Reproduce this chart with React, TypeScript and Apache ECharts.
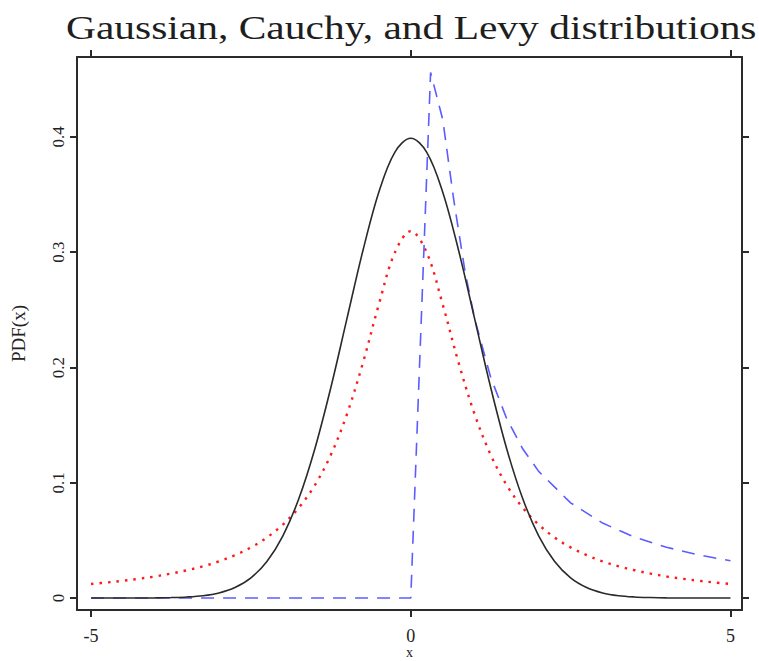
import React, { useEffect, useRef } from "react";
import * as echarts from "echarts";

const TITLE = "Gaussian, Cauchy, and Levy distributions";
const Y_NAME = "PDF(x)";
const X_NAME = "x";

const xTicks = [-5, 0, 5];
const yTicks = [0, 0.1, 0.2, 0.3, 0.4];

const gridX = [
  -5, -4.75, -4.5, -4.25, -4, -3.75, -3.5, -3.25, -3, -2.75, -2.5, -2.25, -2, -1.75, -1.5, -1.25, -1, -0.75, -0.5, -0.25,
  0, 0.25, 0.5, 0.75, 1, 1.25, 1.5, 1.75, 2, 2.25, 2.5, 2.75, 3, 3.25, 3.5, 3.75, 4, 4.25, 4.5, 4.75, 5,
];

const gaussian = [
  0, 0, 0, 0, 0.0001, 0.0004, 0.0009, 0.002, 0.0044, 0.0091, 0.0175, 0.0317, 0.054, 0.0863, 0.1295, 0.1826, 0.242, 0.3011, 0.3521, 0.3867,
  0.3989, 0.3867, 0.3521, 0.3011, 0.242, 0.1826, 0.1295, 0.0863, 0.054, 0.0317, 0.0175, 0.0091, 0.0044, 0.002, 0.0009, 0.0004, 0.0001, 0, 0, 0, 0,
];

const cauchy = [
  0.0122, 0.0135, 0.015, 0.0167, 0.0187, 0.0212, 0.0241, 0.0275, 0.0318, 0.0372, 0.0439, 0.0525, 0.0637, 0.0784, 0.0979, 0.1242, 0.1592, 0.2037, 0.2546, 0.2996,
  0.3183, 0.2996, 0.2546, 0.2037, 0.1592, 0.1242, 0.0979, 0.0784, 0.0637, 0.0525, 0.0439, 0.0372, 0.0318, 0.0275, 0.0241, 0.0212, 0.0187, 0.0167, 0.015, 0.0135, 0.0122,
];

const levyX = [-5, -4, -3, -2, -1, 0, 0.31, 0.5, 0.67, 0.85, 1, 1.25, 1.5, 1.75, 2, 2.5, 3, 3.5, 4, 4.5, 5];
const levy = [0, 0, 0, 0, 0, 0, 0.456, 0.4151, 0.3462, 0.2827, 0.242, 0.1914, 0.1556, 0.1295, 0.1099, 0.0826, 0.065, 0.0528, 0.044, 0.0374, 0.0323];

const SERIF = '"Liberation Serif", "Times New Roman", serif';
const AXIS_COLOR = "#2b2b2b";

export default function App() {
  const ref = useRef<HTMLDivElement>(null);

  useEffect(() => {
    if (!ref.current) return;
    const chart = echarts.init(ref.current, null, { renderer: "svg" });

    const pair = (xs: number[], ys: number[]) => xs.map((x, i) => [x, ys[i]]);

    const axisLine = { show: true, onZero: false, lineStyle: { color: AXIS_COLOR, width: 2 } };
    const tick = (vals: number[]) => ({
      show: true,
      customValues: vals,
      length: 7,
      lineStyle: { color: AXIS_COLOR, width: 2 },
    });
    const xMin = -5.22;
    const xMax = 5.18;
    const yMin = -0.0104;
    const yMax = 0.4694;

    const option: any = {
      animation: false,
      backgroundColor: "#fff",
      grid: { left: 77, right: 17, top: 57, bottom: 51, containLabel: false, outerBoundsMode: "none" },
      graphic: [
        {
          type: "text",
          x: 66,
          y: 10,
          scaleX: 1.22,
          style: {
            text: TITLE,
            font: `34px ${SERIF}`,
            fill: "#1e1e1e",
            verticalAlign: "top",
            align: "left",
          },
        },
      ],
      xAxis: [
        {
          type: "value",
          position: "bottom",
          min: xMin,
          max: xMax,
          axisLine,
          axisTick: tick(xTicks),
          axisLabel: { customValues: xTicks, fontFamily: SERIF, fontSize: 18, lineHeight: 15, color: "#222", margin: 18 },
          splitLine: { show: false },
          name: X_NAME,
          nameLocation: "middle",
          nameGap: 36,
          nameMoveOverlap: false,
          nameTextStyle: { fontFamily: SERIF, fontSize: 14, lineHeight: 13, color: "#222" },
        },
        {
          type: "value",
          position: "top",
          min: xMin,
          max: xMax,
          axisLine,
          axisTick: tick(xTicks),
          axisLabel: { show: false },
          splitLine: { show: false },
        },
      ],
      yAxis: [
        {
          type: "value",
          position: "left",
          min: yMin,
          max: yMax,
          axisLine,
          axisTick: tick(yTicks),
          axisLabel: {
            customValues: yTicks,
            rotate: 90,
            fontFamily: SERIF,
            fontSize: 17,
            color: "#222",
            margin: 10,
            formatter: (v: number) => String(Math.round(v * 10) / 10),
          },
          splitLine: { show: false },
          name: Y_NAME,
          nameLocation: "middle",
          nameRotate: 90,
          nameGap: 49,
          nameMoveOverlap: false,
          nameTextStyle: { fontFamily: SERIF, fontSize: 19, color: "#222" },
        },
        {
          type: "value",
          position: "right",
          min: yMin,
          max: yMax,
          axisLine,
          axisTick: tick(yTicks),
          axisLabel: { show: false },
          splitLine: { show: false },
        },
      ],
      series: [
        {
          name: "Gaussian",
          type: "line",
          xAxisIndex: 0,
          yAxisIndex: 0,
          showSymbol: false,
          smooth: 0.35,
          data: pair(gridX, gaussian),
          lineStyle: { color: "#2a2a2a", width: 1.6, type: "solid" },
          z: 3,
        },
        {
          name: "Cauchy",
          type: "line",
          xAxisIndex: 0,
          yAxisIndex: 0,
          showSymbol: false,
          smooth: 0.35,
          data: pair(gridX, cauchy),
          lineStyle: { color: "#ff1a1a", width: 2.4, type: [2.5, 6] },
          z: 2,
        },
        {
          name: "Levy",
          type: "line",
          xAxisIndex: 0,
          yAxisIndex: 0,
          showSymbol: false,
          data: pair(levyX, levy),
          lineStyle: { color: "#5c5cff", width: 1.6, type: [13, 9] },
          z: 2,
        },
      ],
    };

    chart.setOption(option);
    return () => chart.dispose();
  }, []);

  return (
    <div
      ref={ref}
      style={{ position: "absolute", left: 0, top: 0, width: 759, height: 661, background: "#fff" }}
    />
  );
}
